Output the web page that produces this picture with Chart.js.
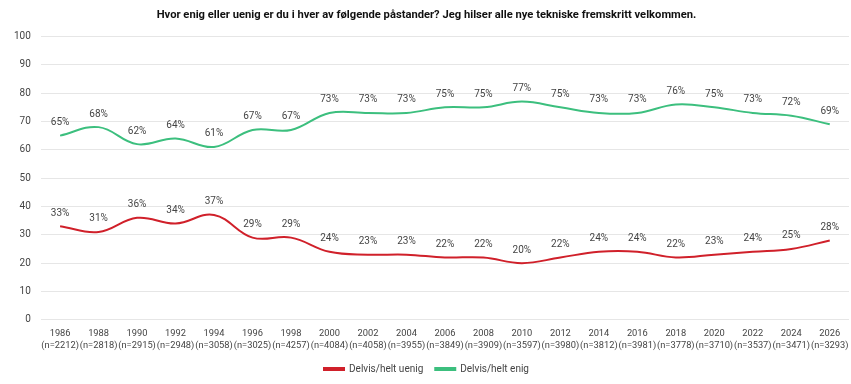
<!DOCTYPE html>
<html><head><meta charset="utf-8">
<script src="https://cdn.jsdelivr.net/npm/chart.js@4"></script>
<style>html,body{margin:0;padding:0;background:#fff}#w{width:851px;height:384px}</style>
</head><body><div id="w"><canvas id="c"></canvas></div>
<script>
const years = ["1986","1988","1990","1992","1994","1996","1998","2000","2002","2004","2006","2008","2010","2012","2014","2016","2018","2020","2022","2024","2026"];
const sampleSizes = ["(n=2212)","(n=2818)","(n=2915)","(n=2948)","(n=3058)","(n=3025)","(n=4257)","(n=4084)","(n=4058)","(n=3955)","(n=3849)","(n=3909)","(n=3597)","(n=3980)","(n=3812)","(n=3981)","(n=3778)","(n=3710)","(n=3537)","(n=3471)","(n=3293)"];
const uenig = [33,31,36,34,37,29,29,24,23,23,22,22,20,22,24,24,22,23,24,25,28];
const enig = [65,68,62,64,61,67,67,73,73,73,75,75,77,75,73,73,76,75,73,72,69];
const titleText = "Hvor enig eller uenig er du i hver av følgende påstander? Jeg hilser alle nye tekniske fremskritt velkommen.";
const FONT = "Roboto, 'Noto Sans', sans-serif";

const labelsPlugin = {
  id: 'pointLabels',
  afterDatasetsDraw(chart) {
    const ctx = chart.ctx;
    ctx.save();
    ctx.font = "10px " + FONT;
    ctx.fillStyle = "#444";
    ctx.textAlign = "center";
    ctx.textBaseline = "middle";
    chart.data.datasets.forEach((ds, i) => {
      const meta = chart.getDatasetMeta(i);
      meta.data.forEach((pt, j) => {
        ctx.fillText(ds.data[j] + "%", pt.x, pt.y - 13);
      });
    });
    ctx.restore();
  }
};

new Chart(document.getElementById('c'), {
  type: 'line',
  data: {
    labels: years.map((y, i) => [y, sampleSizes[i]]),
    datasets: [
      { label: "Delvis/helt uenig", data: uenig, borderColor: "#d0202a", backgroundColor: "#d0202a", borderWidth: 2, pointRadius: 0, tension: 0.4 },
      { label: "Delvis/helt enig", data: enig, borderColor: "#3cbf7e", backgroundColor: "#3cbf7e", borderWidth: 2, pointRadius: 0, tension: 0.4 }
    ]
  },
  options: {
    responsive: true,
    maintainAspectRatio: false,
    animation: false,
    layout: { padding: { left: 4, right: 2, top: 0, bottom: 0 } },
    plugins: {
      title: { display: true, text: titleText, color: "#111", font: { family: FONT, size: 11.2, weight: 'bold' }, padding: { top: 8, bottom: 15 } },
      legend: { position: 'bottom', labels: { boxWidth: 20, boxHeight: 2, color: "#444", font: { family: FONT, size: 10 }, padding: 12 } },
      tooltip: { enabled: false }
    },
    scales: {
      x: {
        offset: true,
        grid: { display: false },
        border: { display: false },
        ticks: { color: "#444", font: { family: FONT, size: 9.3, lineHeight: 1.3 }, maxRotation: 0, autoSkip: false, padding: 0 }
      },
      y: {
        min: 0, max: 100,
        ticks: { stepSize: 10, color: "#444", font: { family: FONT, size: 10 }, padding: 10 },
        grid: { color: "#e6e6e6", drawTicks: false },
        border: { display: false }
      }
    }
  },
  plugins: [labelsPlugin]
});
</script></body></html>
